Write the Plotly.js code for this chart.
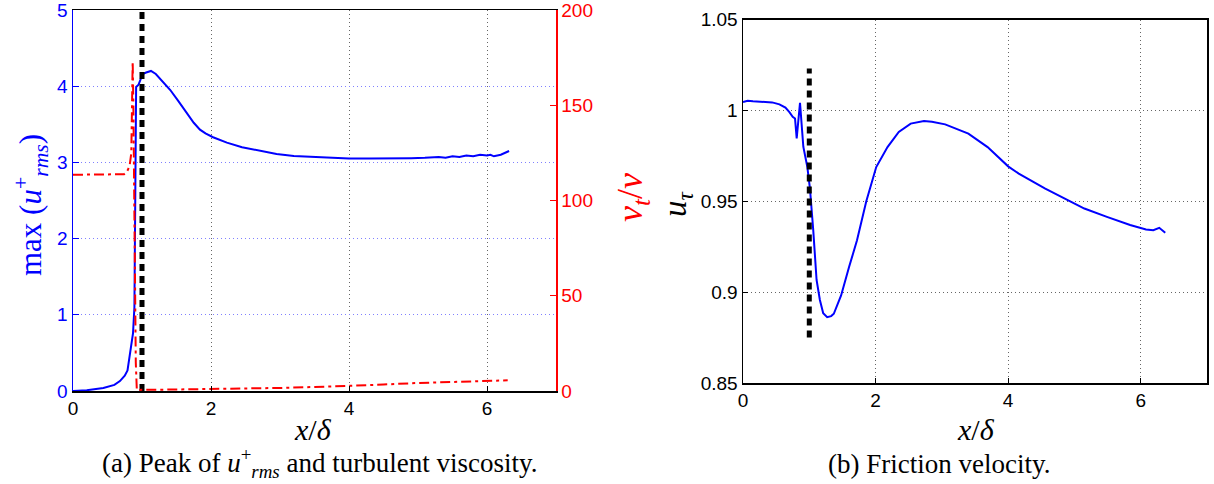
<!DOCTYPE html>
<html>
<head>
<meta charset="utf-8">
<script src="https://cdn.plot.ly/plotly-3.0.1.min.js"></script>
<style>html,body{margin:0;padding:0;background:#fff;}#chart{width:1214px;height:484px;}</style>
</head>
<body>
<div id="chart"></div>
<script>
// (a) peak of u+_rms (left axis)
const xUrms = [0,0.2,0.44,0.6,0.68,0.75,0.79,0.82,0.84,0.87,0.89,0.905,0.915,0.95,0.98,1.01,1.06,1.13,1.2,1.3,1.41,1.53,1.65,1.75,1.84,1.92,2.03,2.23,2.45,2.71,2.95,3.2,3.5,3.8,4.0,4.3,4.6,4.9,5.1,5.3,5.4,5.5,5.6,5.7,5.8,5.9,6.0,6.05,6.1,6.2,6.32];
const urmsMax = [0,0.01,0.04,0.08,0.13,0.2,0.27,0.45,0.58,0.76,1.1,2.5,3.99,4.02,4.08,4.16,4.18,4.2,4.16,4.06,3.95,3.8,3.64,3.52,3.43,3.38,3.33,3.26,3.2,3.15,3.11,3.085,3.07,3.055,3.05,3.05,3.05,3.055,3.06,3.07,3.06,3.08,3.07,3.09,3.08,3.1,3.09,3.1,3.08,3.1,3.15];
// (a) turbulent viscosity nu_t/nu (right axis)
const xNut = [0,0.3,0.6,0.7,0.74,0.78,0.82,0.845,0.855,0.865,0.875,0.885,0.895,0.91,0.925,1.0,1.5,2.0,2.5,3.0,3.5,4.0,4.5,5.0,5.5,6.0,6.3];
const nutRatio = [113.5,113.5,113.5,113.6,113.8,115,118,125,150,173,150,110,60,15,0.5,0.6,0.8,1.0,1.3,1.6,2.1,2.6,3.4,4.2,4.8,5.3,5.6];
// (b) friction velocity
const xUtau = [0,0.07,0.15,0.3,0.44,0.55,0.64,0.7,0.75,0.785,0.81,0.86,0.89,0.91,0.97,1.01,1.06,1.11,1.16,1.21,1.27,1.33,1.37,1.44,1.48,1.6,1.72,1.86,2.01,2.18,2.35,2.53,2.73,2.85,3.05,3.4,3.69,4.0,4.16,4.56,4.91,5.15,5.49,5.84,6.08,6.19,6.28,6.37];
const uTau = [1.0046,1.0053,1.005,1.0047,1.0044,1.0033,1.0015,0.999,0.9965,0.9955,0.9846,1.0042,0.99,0.98,0.969,0.957,0.934,0.9067,0.8957,0.8884,0.8862,0.8868,0.8881,0.8939,0.8982,0.9138,0.9285,0.95,0.9688,0.9798,0.9881,0.9927,0.9941,0.9937,0.9923,0.9872,0.9798,0.9692,0.9652,0.957,0.9506,0.946,0.9414,0.9369,0.9345,0.9341,0.9354,0.9327];
// reference position x/delta = 1
const xRef = [1,1];
const yRefA = [0,5];
const yRefB = [0.875,1.023];
// tick labels
const ticksX = [0,2,4,6];
const ticksYa = [0,1,2,3,4,5];
const ticksY2 = [0,50,100,150,200];
const ticksYb = [0.85,0.9,0.95,1,1.05];
const ticksYbText = ['0.85','0.9','0.95','1','1.05'];

const sans = 'Liberation Sans, Arial, sans-serif';
const serif = 'Liberation Serif, Times New Roman, serif';

const traces = [
  {x:xUrms, y:urmsMax, xaxis:'x', yaxis:'y', mode:'lines', line:{color:'#0000ff', width:2}},
  {x:xRef, y:yRefA, xaxis:'x', yaxis:'y', mode:'lines', line:{color:'black', width:5, dash:'7px,5px'}},
  {x:xNut, y:nutRatio, xaxis:'x', yaxis:'y2', mode:'lines', line:{color:'#ff0000', width:2, dash:'10px,4px,3px,4px'}},
  {x:xUtau, y:uTau, xaxis:'x2', yaxis:'y3', mode:'lines', line:{color:'#0000ff', width:2}},
  {x:xRef, y:yRefB, xaxis:'x2', yaxis:'y3', mode:'lines', line:{color:'black', width:5, dash:'7px,5px'}}
];

const H = 484, W = 1214;
const px = v => v / W;
const py = v => 1 - v / H;

const common = {ticklabeloverflow:'allow', zeroline:false, gridwidth:1, linewidth:1.5};

const layout = {
  width:W, height:H, margin:{l:0,r:0,t:0,b:0}, showlegend:false,
  paper_bgcolor:'white', plot_bgcolor:'white',
  xaxis:Object.assign({domain:[px(73),px(556)], anchor:'y', range:[0,7], tickvals:ticksX, showgrid:true, gridcolor:'#666', griddash:'1px,3px',
    showline:true, linecolor:'black', mirror:true, ticks:'inside', ticklen:5, tickcolor:'black',
    tickfont:{family:sans, size:19, color:'black'}}, common),
  yaxis:Object.assign({domain:[py(391),py(10)], anchor:'x', range:[0,5], tickvals:ticksYa, showgrid:true, gridcolor:'#8080ff', griddash:'1px,3px',
    showline:true, linecolor:'#0000ff', ticks:'inside', ticklen:6, tickcolor:'#0000ff',
    tickfont:{family:sans, size:19, color:'#0000ff'}}, common),
  yaxis2:Object.assign({overlaying:'y', side:'right', anchor:'x', range:[0,200], tickvals:ticksY2, showgrid:false,
    showline:true, linecolor:'#ff0000', ticks:'inside', ticklen:6, tickcolor:'#ff0000',
    tickfont:{family:sans, size:19, color:'#ff0000'}}, common),
  xaxis2:Object.assign({domain:[px(743),px(1207)], anchor:'y3', range:[0,7], tickvals:ticksX, showgrid:true, gridcolor:'#666', griddash:'1px,3px',
    showline:true, linecolor:'black', mirror:true, ticks:'inside', ticklen:5, tickcolor:'black',
    tickfont:{family:sans, size:19, color:'black'}}, common),
  yaxis3:Object.assign({domain:[py(383),py(19.5)], anchor:'x2', range:[0.85,1.05], tickvals:ticksYb, ticktext:ticksYbText, showgrid:true, gridcolor:'#666', griddash:'1px,3px',
    showline:true, linecolor:'black', mirror:true, ticks:'inside', ticklen:5, tickcolor:'black',
    tickfont:{family:sans, size:19, color:'black'}}, common),
  annotations:[
    {xref:'paper', yref:'paper', x:px(31), y:py(205), text:'max (<i>u</i><sup>+</sup><sub><i>rms</i></sub>)', textangle:-90, showarrow:false, xanchor:'center', yanchor:'middle', font:{family:serif, size:31, color:'#0000ff'}},
    {xref:'paper', yref:'paper', x:px(632), y:py(198), text:'<i>ν<sub>t</sub></i>/<i>ν</i>', textangle:-90, showarrow:false, xanchor:'center', yanchor:'middle', font:{family:serif, size:36, color:'#ff0000'}},
    {xref:'paper', yref:'paper', x:px(678), y:py(204), text:'<i>u<sub>τ</sub></i>', textangle:-90, showarrow:false, xanchor:'center', yanchor:'middle', font:{family:serif, size:33, color:'black'}},
    {xref:'paper', yref:'paper', x:px(313), y:py(429), text:'<i>x</i>/<i>δ</i>', showarrow:false, xanchor:'center', yanchor:'middle', font:{family:serif, size:30, color:'black'}},
    {xref:'paper', yref:'paper', x:px(976), y:py(429), text:'<i>x</i>/<i>δ</i>', showarrow:false, xanchor:'center', yanchor:'middle', font:{family:serif, size:30, color:'black'}},
    {xref:'paper', yref:'paper', x:px(319), y:py(463), text:'(a) Peak of <i>u</i><sup>+</sup><sub><i>rms</i></sub> and turbulent viscosity.', showarrow:false, xanchor:'center', yanchor:'middle', font:{family:serif, size:27, color:'black'}},
    {xref:'paper', yref:'paper', x:px(939), y:py(464), text:'(b) Friction velocity.', showarrow:false, xanchor:'center', yanchor:'middle', font:{family:serif, size:27, color:'black'}}
  ]
};

Plotly.newPlot('chart', traces, layout, {staticPlot:true, displayModeBar:false});
</script>
</body>
</html>
